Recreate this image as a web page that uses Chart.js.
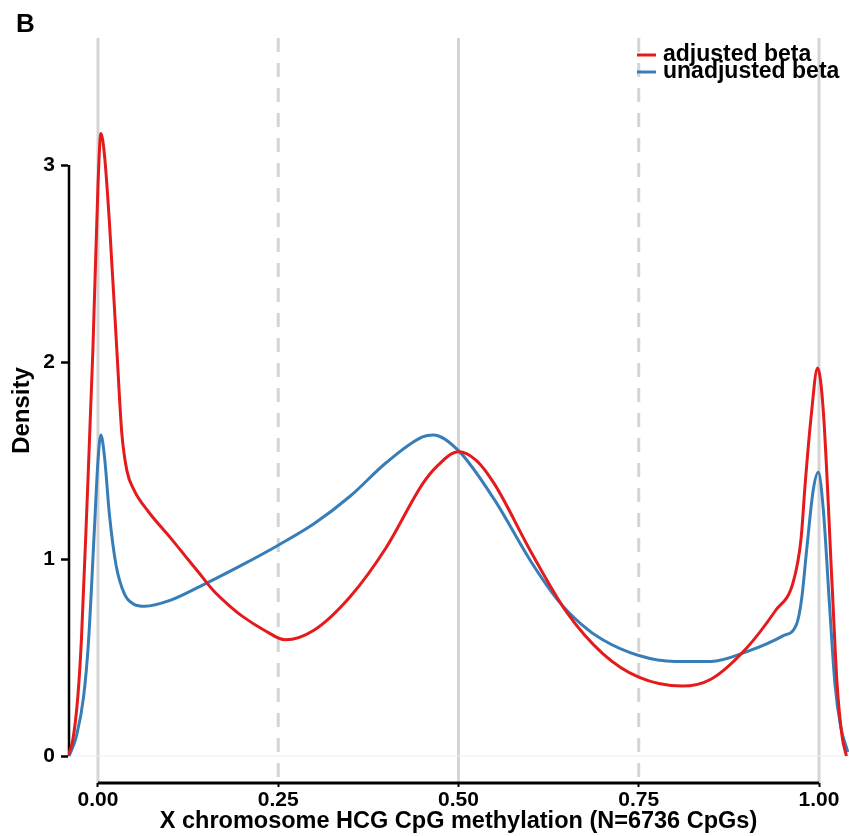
<!DOCTYPE html>
<html>
<head>
    <title>X chromosome HCG CpG methylation</title>
    <style>
        body { margin: 0; background: #fff; }
    </style>
</head>
<body>
    <canvas id="density" width="849" height="836"></canvas>

    <script src="https://cdn.jsdelivr.net/npm/chart.js@4.4.1/dist/chart.umd.min.js"></script>
    <script>
        // density curves
        const adjustedX = [-0.042, -0.035, -0.028, -0.023, -0.015, -0.007, 0.0, 0.004, 0.009, 0.016, 0.026, 0.033, 0.04, 0.05, 0.07,
            0.1, 0.12, 0.14, 0.16, 0.18, 0.2, 0.23, 0.26, 0.3, 0.35, 0.4, 0.45, 0.47, 0.5, 0.525, 0.55, 0.6, 0.65, 0.7, 0.75, 0.81, 0.85, 0.9,
            0.94, 0.964, 0.975, 0.981, 0.989, 0.998, 1.006, 1.018, 1.025, 1.032, 1.038];
        const adjustedY = [0.0, 0.08, 0.3, 0.59, 1.3, 2.07, 2.9, 3.16, 3.05, 2.7, 2.07, 1.64, 1.45, 1.35, 1.24,
            1.11, 1.02, 0.93, 0.84, 0.77, 0.71, 0.64, 0.59, 0.64, 0.81, 1.06, 1.38, 1.47, 1.545, 1.5, 1.38, 1.04, 0.73, 0.52, 0.4, 0.355, 0.39, 0.55,
            0.74, 0.88, 1.1, 1.39, 1.72, 1.97, 1.75, 0.88, 0.37, 0.1, 0.0];

        const unadjustedX = [-0.04, -0.03, -0.02, -0.013, -0.005, 0.0, 0.004, 0.009, 0.016, 0.025, 0.037, 0.05, 0.065, 0.1, 0.141,
            0.2, 0.25, 0.3, 0.35, 0.4, 0.45, 0.465, 0.5, 0.55, 0.6, 0.638, 0.67, 0.7, 0.75, 0.8, 0.85, 0.9, 0.95,
            0.969, 0.976, 0.983, 0.992, 0.999, 1.006, 1.014, 1.022, 1.03, 1.04];
        const unadjustedY = [0.0, 0.1, 0.3, 0.59, 1.15, 1.5, 1.63, 1.52, 1.22, 0.97, 0.82, 0.77, 0.76, 0.79, 0.86,
            0.97, 1.07, 1.18, 1.32, 1.49, 1.62, 1.63, 1.55, 1.3, 0.99, 0.79, 0.67, 0.59, 0.51, 0.48, 0.48, 0.53, 0.61,
            0.67, 0.8, 1.05, 1.35, 1.44, 1.25, 0.8, 0.37, 0.15, 0.02];

        const xTicks = [0, 0.25, 0.5, 0.75, 1];
        const yTicks = [0, 1, 2, 3];
        const solidGuides = [0, 0.5, 1];
        const dashedGuides = [0.25, 0.75];

        const FONT = "'Liberation Sans', Arial, Helvetica, sans-serif";
        const TICK_FONT = { family: FONT, size: 21, weight: 'bold' };

        function toPoints(xs, ys) {
            return xs.map((x, i) => ({x: x, y: ys[i]}));
        }

        // reference lines, range-frame axes, legend and panel letter
        const decorations = {
            id: 'decorations',
            beforeDatasetsDraw(chart) {
                const {ctx, chartArea, scales: {x, y}} = chart;
                ctx.save();
                ctx.strokeStyle = '#d4d4d4';
                ctx.lineWidth = 3;
                solidGuides.concat(dashedGuides).forEach(v => {
                    const px = x.getPixelForValue(v);
                    ctx.setLineDash(dashedGuides.includes(v) ? [14, 11] : []);
                    ctx.beginPath();
                    ctx.moveTo(px, chartArea.top);
                    ctx.lineTo(px, chartArea.bottom);
                    ctx.stroke();
                });
                ctx.setLineDash([]);

                // faint zero line
                ctx.strokeStyle = '#ededed';
                ctx.lineWidth = 1;
                const y0 = y.getPixelForValue(0);
                ctx.beginPath();
                ctx.moveTo(chartArea.left, y0);
                ctx.lineTo(chartArea.right, y0);
                ctx.stroke();

                // axis lines only span the tick range
                ctx.strokeStyle = '#000';
                ctx.lineWidth = 3;
                ctx.beginPath();
                ctx.moveTo(x.getPixelForValue(xTicks[0]), chartArea.bottom);
                ctx.lineTo(x.getPixelForValue(xTicks[xTicks.length - 1]), chartArea.bottom);
                ctx.stroke();
                ctx.lineWidth = 2.5;
                ctx.beginPath();
                ctx.moveTo(chartArea.left + 1, y.getPixelForValue(yTicks[0]));
                ctx.lineTo(chartArea.left + 1, y.getPixelForValue(yTicks[yTicks.length - 1]));
                ctx.stroke();
                ctx.restore();
            },
            afterDraw(chart) {
                const ctx = chart.ctx;
                ctx.save();
                ctx.fillStyle = '#000';
                ctx.font = 'bold 26px ' + FONT;
                ctx.textBaseline = 'alphabetic';
                ctx.fillText('B', 16, 32);

                ctx.font = 'bold 23px ' + FONT;
                ctx.textBaseline = 'middle';
                chart.data.datasets.forEach((ds, i) => {
                    const cy = 55 + i * 17;
                    ctx.strokeStyle = ds.borderColor;
                    ctx.lineWidth = 3;
                    ctx.beginPath();
                    ctx.moveTo(637, cy);
                    ctx.lineTo(656, cy);
                    ctx.stroke();
                    ctx.fillText(ds.label, 663, cy);
                });
                ctx.restore();
            }
        };

        const context = document.getElementById('density').getContext('2d');

        const densityChart = new Chart(context, {
            type: 'line',
            data: {
                datasets: [
                    {
                        label: 'adjusted beta',
                        data: toPoints(adjustedX, adjustedY),
                        borderColor: '#e41a1c',
                    },
                    {
                        label: 'unadjusted beta',
                        data: toPoints(unadjustedX, unadjustedY),
                        borderColor: '#377eb8',
                    },
                ],
            },
            options: {
                responsive: false,
                animation: false,
                layout: { padding: { top: 38, right: 0, left: 0, bottom: 0 } },
                elements: {
                    line: { borderWidth: 3, cubicInterpolationMode: 'monotone', fill: false },
                    point: { radius: 0 },
                },
                plugins: {
                    legend: { display: false },
                    tooltip: { enabled: false },
                },
                scales: {
                    x: {
                        type: 'linear',
                        min: -0.0416,
                        max: 1.0416,
                        afterBuildTicks: s => { s.ticks = xTicks.map(v => ({value: v})); },
                        afterFit: s => { s.height = 53; },
                        border: { display: false },
                        grid: { drawOnChartArea: false, drawTicks: true, tickLength: 4, tickColor: '#000', tickWidth: 2 },
                        ticks: {
                            color: '#000',
                            padding: 1,
                            maxRotation: 0,
                            font: TICK_FONT,
                            callback: v => v.toFixed(2),
                        },
                        title: {
                            display: true,
                            text: 'X chromosome HCG CpG methylation (N=6736 CpGs)',
                            color: '#000',
                            padding: { top: 0, bottom: 3 },
                            font: { family: FONT, size: 23.5, weight: 'bold', lineHeight: 1 },
                        },
                    },
                    y: {
                        min: -0.137,
                        max: 3.645,
                        afterBuildTicks: s => { s.ticks = yTicks.map(v => ({value: v})); },
                        afterFit: s => { s.width = 68; },
                        border: { display: false },
                        grid: { drawOnChartArea: false, drawTicks: true, tickLength: 7, tickColor: '#000', tickWidth: 2.5 },
                        ticks: {
                            color: '#000',
                            padding: 6,
                            font: TICK_FONT,
                            callback: v => String(v),
                        },
                        title: {
                            display: true,
                            text: 'Density',
                            color: '#000',
                            padding: { top: 8, bottom: 0 },
                            font: { family: FONT, size: 24, weight: 'bold', lineHeight: 1.2 },
                        },
                    },
                },
            },
            plugins: [decorations],
        });
    </script>
</body>
</html>
